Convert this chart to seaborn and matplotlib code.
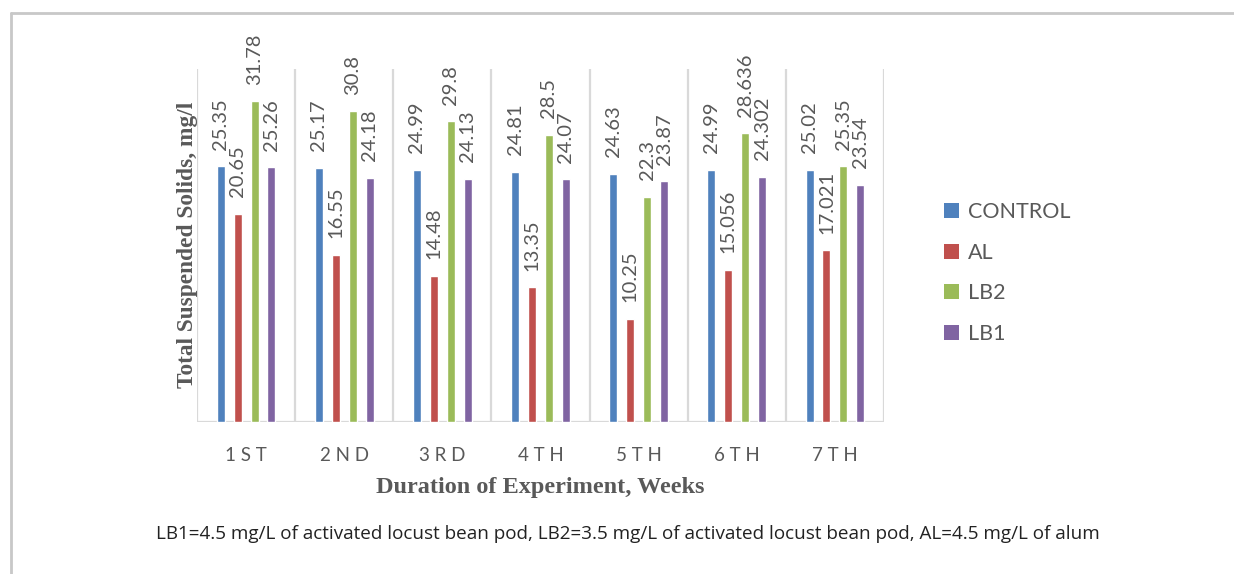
import matplotlib
matplotlib.use("Agg")
import matplotlib.pyplot as plt
from matplotlib.lines import Line2D
from matplotlib.patches import Patch
import seaborn as sns
import pandas as pd

# Weekly total suspended solids (mg/l) for each treatment
weeks = ["1ST", "2ND", "3RD", "4TH", "5TH", "6TH", "7TH"]
treatments = ["CONTROL", "AL", "LB2", "LB1"]
control = [25.35, 25.17, 24.99, 24.81, 24.63, 24.99, 25.02]
al = [20.65, 16.55, 14.48, 13.35, 10.25, 15.056, 17.021]
lb2 = [31.78, 30.8, 29.8, 28.5, 22.3, 28.636, 25.35]
lb1 = [25.26, 24.18, 24.13, 24.07, 23.87, 24.302, 23.54]

colors = ["#4F81BD", "#C0504D", "#9BBB59", "#8064A2"]
text_gray = "#595959"
grid_gray = "#D9D9D9"

series = dict(zip(treatments, [control, al, lb2, lb1]))
df = pd.DataFrame(
    [(w, t, v) for t in treatments for w, v in zip(weeks, series[t])],
    columns=["week", "treatment", "tss"],
)

sns.set_theme(style="white")
plt.rcParams["font.family"] = ["Lato", "DejaVu Sans"]

fig = plt.figure(figsize=(12.34, 5.74), dpi=100)
ax = fig.add_axes([197 / 1234, 1 - 422 / 574, 687 / 1234, 353 / 574])

sns.barplot(
    data=df, x="week", y="tss", hue="treatment",
    order=weeks, hue_order=treatments, palette=colors,
    width=0.69, gap=0.53, saturation=1, legend=False, ax=ax,
)

ax.set_xlim(-0.5, len(weeks) - 0.5)
ax.set_ylim(0, 35)
ax.set_yticks([])
for s in ax.spines.values():
    s.set_visible(False)

# category separators and baseline
for i in range(len(weeks) + 1):
    ax.axvline(i - 0.5, color=grid_gray, lw=1.6, zorder=0)
ax.axhline(0, color=grid_gray, lw=1.6, zorder=0)

# value labels above each bar
for cont, vals in zip(ax.containers, [control, al, lb2, lb1]):
    ax.bar_label(cont, labels=[f"{v:g}" for v in vals], rotation=90,
                 padding=12, fontsize=14.5, color=text_gray)

ax.set_xticks(range(len(weeks)))
ax.set_xticklabels([" ".join(w) for w in weeks], fontsize=13.5, color=text_gray)
ax.tick_params(axis="x", length=0, pad=18)
ax.set_xlabel("")
ax.set_ylabel("")

fig.text(187 / 1234, 1 - 245 / 574, "Total Suspended Solids, mg/l",
         rotation=90, ha="center", va="center", fontsize=16.8,
         fontweight="bold", family="Liberation Serif", color=text_gray)
fig.text(540 / 1234, 1 - 487 / 574, "Duration of Experiment, Weeks",
         ha="center", va="center", fontsize=17.5,
         fontweight="bold", family="Liberation Serif", color=text_gray)

handles = [Patch(facecolor=c, edgecolor="none") for c in colors]
fig.legend(handles, treatments, loc="center left",
           bbox_to_anchor=(925 / 1234, 1 - 273 / 574), frameon=False,
           handlelength=0.7, handleheight=0.7, handletextpad=0.4,
           labelspacing=0.95, fontsize=15.5, labelcolor=text_gray)

fig.text(628 / 1234, 1 - 534 / 574,
         "LB1=4.5 mg/L of activated locust bean pod, LB2=3.5 mg/L of activated "
         "locust bean pod, AL=4.5 mg/L of alum",
         ha="center", va="center", fontsize=13.6, color="#222222",
         family="Open Sans")

# outer frame (top and left edges)
fig.add_artist(Line2D([11 / 1234, 1], [1 - 13 / 574, 1 - 13 / 574],
                      transform=fig.transFigure, color="#C8C8C8", lw=2))
fig.add_artist(Line2D([11 / 1234, 11 / 1234], [0, 1 - 13 / 574],
                      transform=fig.transFigure, color="#C8C8C8", lw=2))

fig.savefig("out.png", dpi=100)
